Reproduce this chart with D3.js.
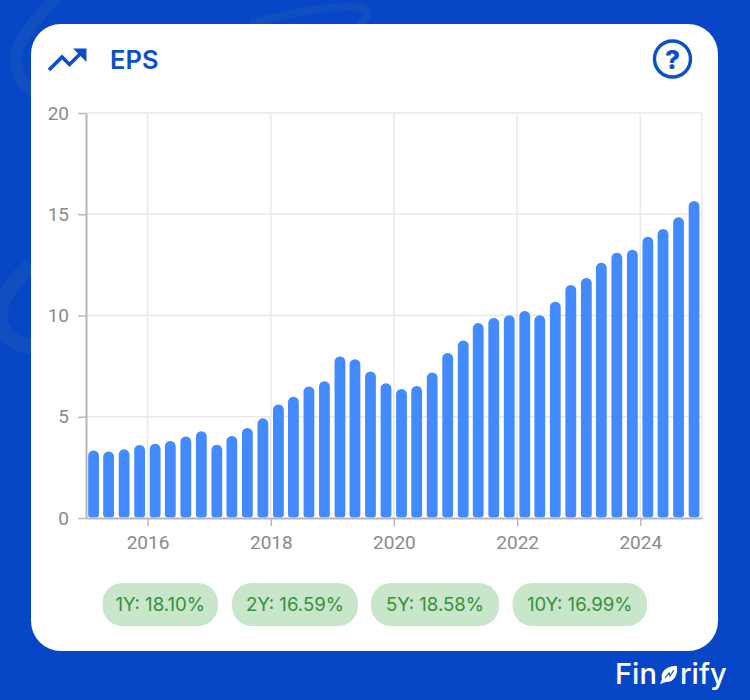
<!DOCTYPE html>
<html>
<head>
<meta charset="utf-8">
<script src="https://cdn.jsdelivr.net/npm/d3@7"></script>
<style>
  html, body { margin: 0; padding: 0; background: #0747c7; }
  svg { display: block; }
  .axis text { font-family: Roboto, sans-serif; font-size: 19px; fill: #8a8a8a; }
  .axis .domain { stroke: #b5b5b5; stroke-width: 2; }
  .axis .tick line { stroke: #b5b5b5; stroke-width: 1.4; }
  .grid line { stroke: #e8e8e8; stroke-width: 1.5; }
</style>
</head>
<body>
<div id="chart-container"></div>
<script>
const years = [2015, 2016, 2017, 2018, 2019, 2020, 2021, 2022, 2023, 2024];
const quarterMonths = ["02", "05", "08", "11"];
const eps = [
  3.33, 3.29, 3.39, 3.60, 3.67, 3.80, 4.02, 4.28, 3.62, 4.05,
  4.44, 4.92, 5.60, 5.99, 6.50, 6.75, 7.98, 7.84, 7.24, 6.65,
  6.37, 6.52, 7.19, 8.15, 8.77, 9.63, 9.88, 10.01, 10.22, 10.01,
  10.68, 11.51, 11.85, 12.61, 13.10, 13.25, 13.89, 14.27, 14.85, 15.65
];
const yTicks = [0, 5, 10, 15, 20];
const xTicks = ["2016", "2018", "2020", "2022", "2024"];
const allXLines = ["2016", "2018", "2020", "2022", "2024", "2025"];
const growthLabels = ["1Y: 18.10%", "2Y: 16.59%", "5Y: 18.58%", "10Y: 16.99%"];
const chipLefts = [102.5, 232, 371, 512.5];
const chipWidths = [115.5, 126, 128, 134.5];

const svgWidth = 750,
    svgHeight = 700,
    margin = { top: 113, right: 48, bottom: 182, left: 86 },
    width = svgWidth - margin.left - margin.right,
    height = svgHeight - margin.top - margin.bottom;

const parseDate = d3.utcParse("%Y-%m-%d");
const dates = years.flatMap((y) => quarterMonths.map((m) => parseDate(`${y}-${m}-15`)));
const yearDate = (y) => parseDate(`${y}-01-01`);

var root = d3.select("#chart-container").append("svg")
    .attr("width", svgWidth)
    .attr("height", svgHeight);

// background swirls
const swirls = root.append("g")
    .attr("fill", "none")
    .attr("stroke", "#0f4fc0");
swirls.append("path").attr("stroke-width", 12)
    .attr("d", "M58,-4C35,20 10,45 17,68C20,82 28,90 40,96");
swirls.append("path").attr("stroke-width", 8)
    .attr("d", "M250,24C290,12 340,4 362,8C372,12 366,20 358,24");
swirls.append("path").attr("stroke-width", 16)
    .attr("d", "M31,265C10,285 -6,305 1,325C6,340 20,345 31,346");

// card
root.append("rect")
    .attr("x", 31).attr("y", 24)
    .attr("width", 687).attr("height", 627)
    .attr("rx", 30)
    .attr("fill", "#ffffff");

// header icon and title
const blue = "#0b4fcc";
root.append("path")
    .attr("d", "M49,70L62,57L69.5,64.5L81,53")
    .attr("fill", "none").attr("stroke", blue).attr("stroke-width", 3.6);
root.append("path").attr("d", "M73,48.5H86.5V62Z").attr("fill", blue);
root.append("text")
    .attr("x", 110).attr("y", 69)
    .attr("font-family", "Inter, sans-serif")
    .attr("font-size", 25.5).attr("font-weight", 600)
    .attr("fill", blue)
    .text("EPS");

// help icon
root.append("circle")
    .attr("cx", 672.5).attr("cy", 59).attr("r", 18)
    .attr("fill", "none").attr("stroke", blue).attr("stroke-width", 3.4);
root.append("text")
    .attr("x", 672.5).attr("y", 68.5)
    .attr("text-anchor", "middle")
    .attr("font-family", "Inter, sans-serif")
    .attr("font-size", 26).attr("font-weight", 800)
    .attr("fill", blue)
    .text("?");

const svg = root.append("g")
    .attr("transform", `translate(${margin.left},${margin.top})`);

// create scales
let xScale = d3.scaleUtc()
        .domain([yearDate(2015), yearDate(2025)])
        .range([0, width]),
    yScale = d3.scaleLinear()
        .domain([0, 20])
        .range([height, 0]);

// grid
const grid = svg.append("g").attr("class", "grid");
grid.selectAll(".gx")
    .data(allXLines)
    .join("line")
    .attr("x1", (d) => xScale(yearDate(d)))
    .attr("x2", (d) => xScale(yearDate(d)))
    .attr("y1", 0)
    .attr("y2", height);
grid.selectAll(".gy")
    .data(yTicks.slice(1))
    .join("line")
    .attr("x1", 0)
    .attr("x2", width)
    .attr("y1", (d) => yScale(d))
    .attr("y2", (d) => yScale(d));

// bars, big radius on top and small one at the bottom
const barWidth = 10.8, rTop = 5.2, rBottom = 3;
function barPath(d, i) {
    const cx = xScale(dates[i]),
        x0 = cx - barWidth / 2,
        x1 = cx + barWidth / 2,
        top = yScale(d),
        base = yScale(0) - 0.5;
    const p = d3.path();
    p.moveTo(x0, base - rBottom);
    p.lineTo(x0, top + rTop);
    p.arcTo(x0, top, x0 + rTop, top, rTop);
    p.arcTo(x1, top, x1, top + rTop, rTop);
    p.lineTo(x1, base - rBottom);
    p.arcTo(x1, base, x1 - rBottom, base, rBottom);
    p.arcTo(x0, base, x0, base - rBottom, rBottom);
    p.closePath();
    return p.toString();
}
svg.selectAll(".bar")
    .data(eps)
    .join("path")
    .attr("class", "bar")
    .attr("fill", "#448aff")
    .attr("d", barPath);

// axes
svg.append("g")
    .attr("class", "axis")
    .attr("transform", `translate(0,${height})`)
    .call(d3.axisBottom(xScale)
        .tickValues(xTicks.map(yearDate))
        .tickFormat(d3.utcFormat("%Y"))
        .tickSize(8).tickSizeOuter(0).tickPadding(10));
svg.append("g")
    .attr("class", "axis")
    .call(d3.axisLeft(yScale)
        .tickValues(yTicks)
        .tickSize(8).tickSizeOuter(0).tickPadding(9));

// growth chips
const chips = root.selectAll(".chip")
    .data(growthLabels)
    .join("g")
    .attr("class", "chip")
    .attr("transform", (d, i) => `translate(${chipLefts[i]},583)`);
chips.append("rect")
    .attr("width", (d, i) => chipWidths[i])
    .attr("height", 43)
    .attr("rx", 20)
    .attr("fill", "#c8e6c9");
chips.append("text")
    .attr("x", (d, i) => chipWidths[i] / 2)
    .attr("y", 28)
    .attr("text-anchor", "middle")
    .attr("font-family", "Inter, sans-serif")
    .attr("font-size", 18.6)
    .attr("fill", "#388e3c")
    .text((d) => d);

// brand
const brand = root.append("g")
    .attr("font-family", "Inter, sans-serif")
    .attr("font-size", 29).attr("font-weight", 500)
    .attr("fill", "#ffffff");
brand.append("text").attr("x", 615).attr("y", 684).text("Fin");
brand.append("text").attr("x", 680).attr("y", 684).text("rify");
root.append("path")
    .attr("d", "M660,684L662,679C660,672 667,665 677,666C678,674 675,682 666,682Z")
    .attr("fill", "#ffffff");
root.append("path")
    .attr("d", "M665,678L669,673L670,676L674,670")
    .attr("fill", "none").attr("stroke", "#0747c7").attr("stroke-width", 1.2);
</script>
</body>
</html>
